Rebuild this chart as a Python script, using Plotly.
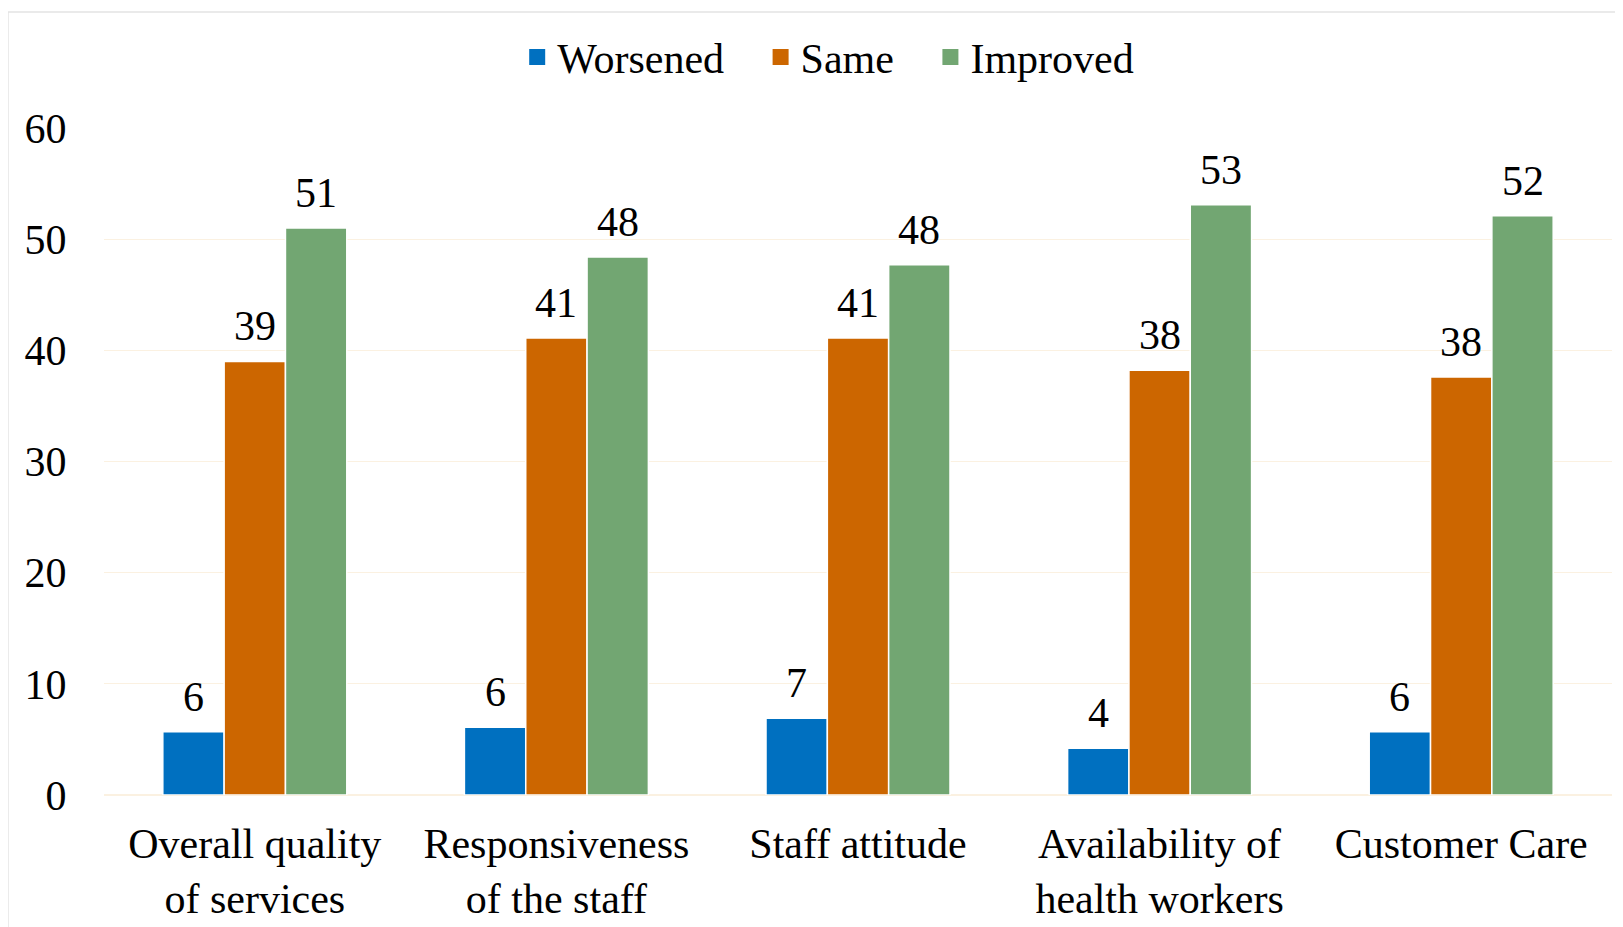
import plotly.graph_objects as go

categories = [
    "Overall quality<br>of services",
    "Responsiveness<br>of the staff",
    "Staff attitude",
    "Availability of<br>health workers",
    "Customer Care",
]
worsened = [5.7, 6.1, 6.9, 4.2, 5.7]
same = [39.0, 41.1, 41.1, 38.2, 37.6]
improved = [51.0, 48.4, 47.7, 53.1, 52.1]

series = [
    ("Worsened", worsened, "#0070C0"),
    ("Same", same, "#CC6600"),
    ("Improved", improved, "#72A672"),
]

FONT = "Liberation Serif"
FS = 42
BAR_STEP = 61.3  # px between bar centres inside a group

fig = go.Figure()
for name, vals, color in series:
    fig.add_trace(
        go.Bar(
            x=categories,
            y=vals,
            name=name,
            marker=dict(color=color, line=dict(color="white", width=1.5)),
            showlegend=False,
        )
    )
    # legend entry with a bigger square
    fig.add_trace(
        go.Scatter(
            x=[None],
            y=[None],
            mode="markers",
            name=name + "\u00a0\u00a0\u00a0",
            marker=dict(symbol="square", size=20, color=color),
        )
    )

# value labels over the bars
for i, (name, vals, color) in enumerate(series):
    for cat, v in zip(categories, vals):
        fig.add_annotation(
            x=cat,
            y=v,
            xref="x",
            yref="y",
            text=f"{v:.0f}",
            showarrow=False,
            xanchor="center",
            yanchor="bottom",
            xshift=(i - 1) * BAR_STEP,
            yshift=10,
            font=dict(family=FONT, size=FS, color="black"),
        )

# page body has an 8px margin, so the figure is a bit smaller than the window
fig.update_layout(
    width=1615,
    height=919,
    margin=dict(l=96, r=11, t=120, b=132, autoexpand=False),
    paper_bgcolor="white",
    plot_bgcolor="white",
    font=dict(family=FONT, size=FS, color="black"),
    barmode="group",
    bargap=0.39,
    bargroupgap=0.0,
    legend=dict(
        orientation="h",
        x=0.274,
        xanchor="left",
        y=1.106,
        yanchor="middle",
        font=dict(family=FONT, size=FS, color="black"),
        itemwidth=30,
    ),
    showlegend=True,
)

fig.update_yaxes(
    range=[0, 60],
    dtick=10,
    showgrid=True,
    gridcolor="#FBF1E1",
    gridwidth=1,
    zeroline=True,
    zerolinecolor="#FBF1E1",
    showline=False,
    ticks="outside",
    ticklen=28,
    tickcolor="rgba(0,0,0,0)",
    tickfont=dict(family=FONT, size=FS),
)
fig.update_xaxes(
    showline=False,
    ticks="outside",
    ticklen=12,
    tickcolor="rgba(0,0,0,0)",
    tickfont=dict(family=FONT, size=FS),
    tickangle=0,
)

# light outer frame of the chart area
fig.add_shape(
    type="rect",
    xref="paper",
    yref="paper",
    x0=-0.0637,
    x1=1.03,
    y0=-0.3,
    y1=1.174,
    line=dict(color="#E3E3E3", width=1.5),
    fillcolor="rgba(0,0,0,0)",
    layer="below",
)

fig.write_html("out.html")
